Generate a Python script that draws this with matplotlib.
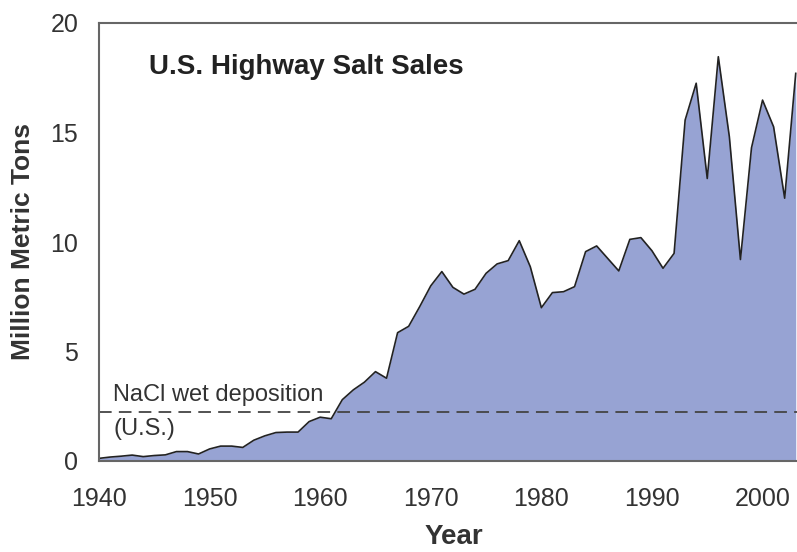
import matplotlib.pyplot as plt

years = list(range(1940, 2004))
sales = [0.12, 0.18, 0.22, 0.27, 0.20, 0.25, 0.28, 0.43, 0.43, 0.32,
         0.55, 0.68, 0.68, 0.62, 0.95, 1.15, 1.30, 1.32, 1.32, 1.80,
         2.00, 1.93, 2.80, 3.25, 3.60, 4.08, 3.78, 5.86, 6.15, 7.05,
         8.00, 8.65, 7.93, 7.62, 7.84, 8.57, 9.00, 9.15, 10.06, 8.87,
         7.00, 7.69, 7.73, 7.96, 9.56, 9.82, 9.25, 8.68, 10.12, 10.20,
         9.60, 8.80, 9.48, 15.57, 17.25, 12.90, 18.46, 14.80, 9.20, 14.30,
         16.48, 15.26, 12.00, 17.70]
nacl_deposition = 2.25
x_ticks = [1940, 1950, 1960, 1970, 1980, 1990, 2000]
y_ticks = [0, 5, 10, 15, 20]

plt.rcParams['font.family'] = ['Liberation Sans', 'DejaVu Sans']
text_col = '#333333'

fig = plt.figure(figsize=(7.97, 5.52), dpi=100)
# axes runs past the right edge of the figure, like the cropped original
ax = fig.add_axes([99 / 797, 91 / 552, 710 / 797, 438 / 552])

ax.fill_between(years, sales, 0, color='#97a3d3', linewidth=0)
ax.plot(years, sales, color='#222222', linewidth=1.2)
ax.axhline(nacl_deposition, color='#444444', linewidth=1.3, dashes=(7, 4))

ax.set_xlim(1940, 2004.2)
ax.set_ylim(0, 20)
ax.set_xticks(x_ticks)
ax.set_yticks(y_ticks)
ax.tick_params(length=0, labelsize=18, labelcolor=text_col)
ax.tick_params(axis='x', pad=19)
ax.tick_params(axis='y', pad=15)
for s in ax.spines.values():
    s.set_color('#666666')
    s.set_linewidth(1.5)

ax.set_xlabel('Year', fontsize=20, fontweight='bold', color=text_col, labelpad=9)
ax.set_ylabel('Million Metric Tons', fontsize=19, fontweight='bold', color=text_col, labelpad=11)

ax.text(0.07, 0.9, 'U.S. Highway Salt Sales', transform=ax.transAxes,
        fontsize=20, fontweight='bold', color='#222222', va='center')
ax.text(1941.3, nacl_deposition + 0.25, 'NaCl wet deposition', fontsize=17,
        color=text_col, va='bottom')
ax.text(1941.3, nacl_deposition - 0.3, '(U.S.)', fontsize=17,
        color=text_col, va='top')

plt.savefig('out.png', dpi=100)
